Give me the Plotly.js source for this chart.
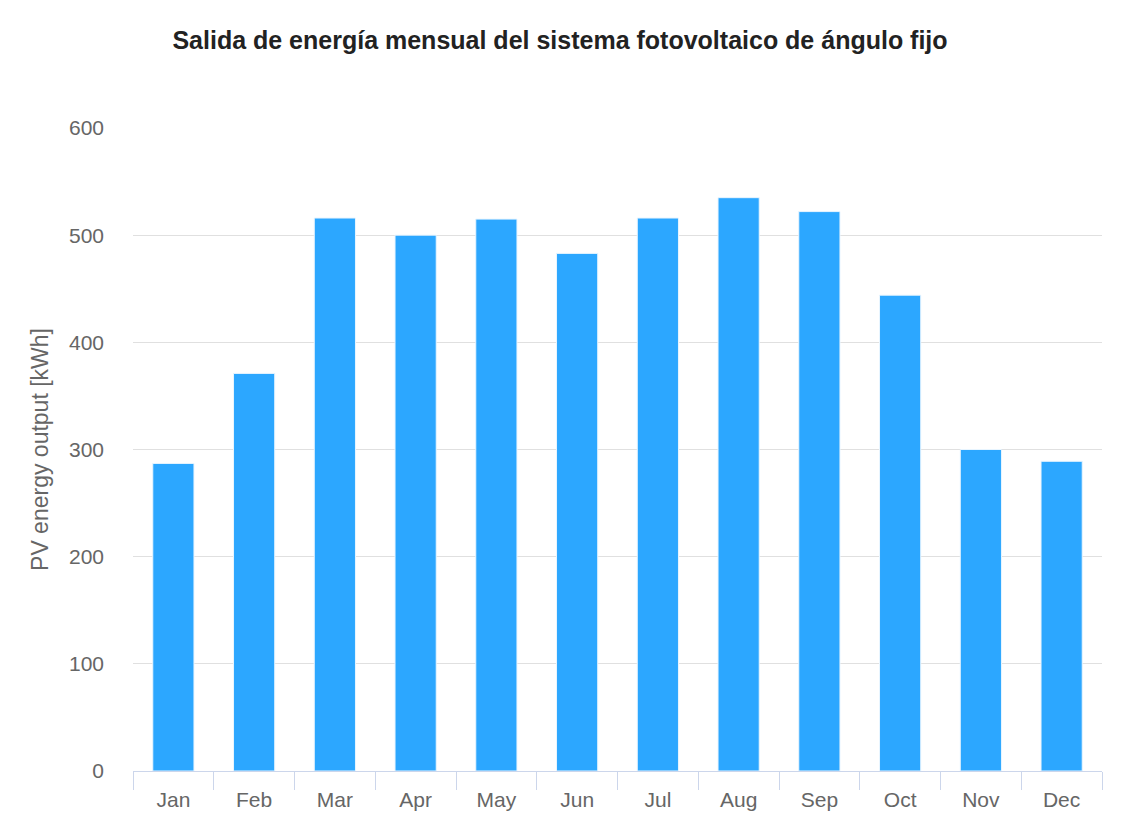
<!DOCTYPE html>
<html>
<head>
<meta charset="utf-8">
<script src="https://cdn.plot.ly/plotly-3.0.1.min.js"></script>
<style>html,body{margin:0;padding:0;background:#fff;}#chart{width:1138px;height:824px;}</style>
</head>
<body>
<div id="chart"></div>
<script>
const months = ["Jan","Feb","Mar","Apr","May","Jun","Jul","Aug","Sep","Oct","Nov","Dec"];
const output = [287, 371, 516, 500, 515, 483, 516, 535, 522, 444, 300, 289];
const yTicks = [0, 100, 200, 300, 400, 500, 600];

const trace = {
  type: 'bar',
  x: months,
  y: output,
  marker: {color: '#2ca7ff', line: {color: '#e8f5ff', width: 1}},
  hoverinfo: 'x+y'
};

const layout = {
  width: 1138, height: 824,
  margin: {l: 133, r: 36, t: 128, b: 53},
  paper_bgcolor: '#fff', plot_bgcolor: '#fff',
  bargap: 0.49,
  showlegend: false,
  title: {
    text: '<b>Salida de energía mensual del sistema fotovoltaico de ángulo fijo</b>',
    font: {family: 'Liberation Sans, Arial, sans-serif', size: 25, color: '#222'},
    xref: 'container', x: 560/1138, xanchor: 'center',
    yref: 'container', y: 1 - 40/824, yanchor: 'middle'
  },
  xaxis: {
    type: 'category',
    tickson: 'boundaries',
    ticks: 'outside', ticklen: 18, tickcolor: '#ccd6eb', tickwidth: 1,
    showline: true, linecolor: '#ccd6eb', linewidth: 1,
    showgrid: false,
    ticklabelstandoff: 10,
    tickfont: {family: 'Liberation Sans, Arial, sans-serif', size: 21, color: '#666'},
    fixedrange: true
  },
  yaxis: {
    range: [0, 600],
    tickvals: yTicks,
    ticktext: yTicks.map(String),
    showgrid: true, gridcolor: '#e0e0e0', gridwidth: 1,
    zeroline: false,
    showline: false,
    ticks: '', ticklabelstandoff: 28,
    tickfont: {family: 'Liberation Sans, Arial, sans-serif', size: 21, color: '#666'},
    title: {text: 'PV energy output [kWh]', standoff: 13,
      font: {family: 'Liberation Sans, Arial, sans-serif', size: 23, color: '#666'}},
    fixedrange: true
  }
};

Plotly.newPlot('chart', [trace], layout, {displayModeBar: false, staticPlot: true});
</script>
</body>
</html>
